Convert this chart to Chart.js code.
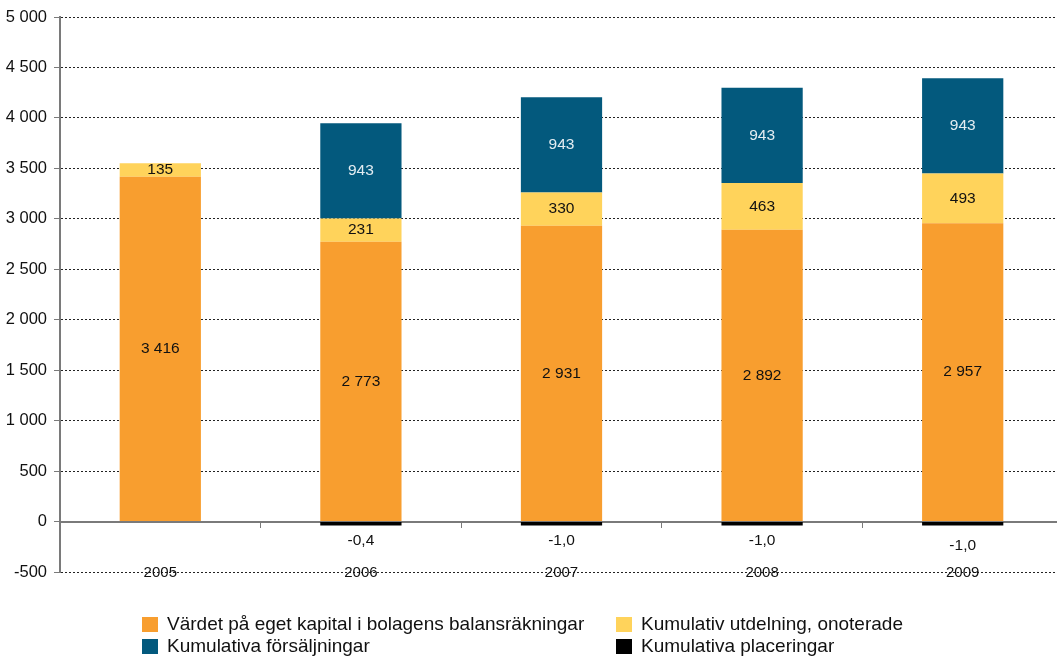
<!DOCTYPE html>
<html>
<head>
<meta charset="utf-8">
<script src="https://cdn.jsdelivr.net/npm/chart.js@4.4.1/dist/chart.umd.min.js"></script>
<style>
  html, body { margin: 0; padding: 0; background: #fff; overflow: hidden; }
  #wrap { position: relative; width: 1063px; height: 656px; }
  #legend {
    position: absolute; left: 142px; top: 616px;
    display: grid; grid-template-columns: 474px 320px; row-gap: 6px;
    font-family: "Liberation Sans", Arial, sans-serif; font-size: 19px; color: #111;
  }
  #legend .item { display: flex; align-items: center; height: 16px; }
  #legend .box { width: 16px; height: 15px; margin-right: 9px; flex: none; }
</style>
</head>
<body>
<div id="wrap">
  <canvas id="bar-chart" width="1063" height="656"></canvas>
  <div id="legend"></div>
</div>
<script>
var years = ['2005', '2006', '2007', '2008', '2009'];
var egetKapital = [3416, 2773, 2931, 2892, 2957];
var utdelning = [135, 231, 330, 463, 493];
var forsaljningar = [null, 943, 943, 943, 943];
var placeringar = [null, -0.4, -1.0, -1.0, -1.0];

var labels = [
    'Värdet på eget kapital i bolagens balansräkningar',
    'Kumulativ utdelning, onoterade',
    'Kumulativa försäljningar',
    'Kumulativa placeringar'
];
var colors = ['#f89e2f', '#ffd35b', '#03597d', '#000000'];

function fmtThousands(v) {
    var s = String(Math.abs(Math.round(v))).replace(/\B(?=(\d{3})+(?!\d))/g, ' ');
    return (v < 0 ? '-' : '') + s;
}
function fmtValue(v) {
    if (Math.round(v) !== v || Math.abs(v) < 10) return v.toFixed(1).replace('.', ',');
    return fmtThousands(v);
}

// values written into each segment, negatives below the zero line
var barLabels = {
    id: 'barLabels',
    afterDatasetsDraw: function (chart) {
        var ctx = chart.ctx;
        ctx.save();
        ctx.font = '15.5px "Liberation Sans", Arial, sans-serif';
        ctx.textAlign = 'center';
        ctx.textBaseline = 'middle';
        chart.data.datasets.forEach(function (ds, i) {
            var meta = chart.getDatasetMeta(i);
            meta.data.forEach(function (bar, j) {
                var v = ds.data[j];
                if (v === null || v === undefined) return;
                var y;
                if (v < 0) {
                    y = bar.base + (j === 4 ? 24 : 19);
                } else {
                    y = (bar.y + bar.base) / 2;
                }
                ctx.fillStyle = ds.labelColor;
                ctx.fillText(fmtValue(v), bar.x, y);
            });
        });
        ctx.restore();
    }
};

var series = [egetKapital, utdelning, forsaljningar, placeringar];
var datasets = series.map(function (d, i) {
    return {
        label: labels[i],
        data: d,
        backgroundColor: colors[i],
        labelColor: i === 2 ? '#e4edf2' : '#111111',
        barPercentage: 0.405,
        categoryPercentage: 1,
        minBarLength: i === 3 ? 4 : 0
    };
});

var barContext = document.getElementById('bar-chart').getContext('2d');
window.myBar = new Chart(barContext, {
    type: 'bar',
    data: { labels: years, datasets: datasets },
    options: {
        responsive: false,
        animation: false,
        layout: { padding: { top: 17, bottom: 84, left: 0, right: 0 } },
        plugins: { legend: { display: false }, tooltip: { enabled: false } },
        scales: {
            x: {
                stacked: true,
                position: { y: 0 },
                grid: {
                    offset: true,
                    drawOnChartArea: false,
                    drawTicks: true,
                    tickLength: 5,
                    tickColor: '#7a7a7a',
                    tickWidth: 1
                },
                border: { display: true, color: '#7a7a7a', width: 2 },
                ticks: {
                    padding: 37,
                    color: '#111111',
                    font: { family: '"Liberation Sans", Arial, sans-serif', size: 15 }
                }
            },
            y: {
                stacked: true,
                min: -500,
                max: 5000,
                afterFit: function (scale) { scale.width = 60; },
                grid: {
                    color: '#222222',
                    lineWidth: 1,
                    tickLength: 6,
                    tickColor: '#7a7a7a',
                    tickWidth: 1
                },
                border: { display: true, color: '#7a7a7a', width: 2, dash: [2, 2] },
                ticks: {
                    stepSize: 500,
                    padding: 7,
                    color: '#111111',
                    font: { family: '"Liberation Sans", Arial, sans-serif', size: 16.5 },
                    callback: function (v) { return fmtThousands(v); }
                }
            }
        }
    },
    plugins: [barLabels]
});

// two column legend under the plot
var legendOrder = [0, 1, 2, 3];
var legendEl = document.getElementById('legend');
legendOrder.forEach(function (i) {
    var item = document.createElement('div');
    item.className = 'item';
    var box = document.createElement('span');
    box.className = 'box';
    box.style.background = colors[i];
    var txt = document.createElement('span');
    txt.textContent = labels[i];
    item.appendChild(box);
    item.appendChild(txt);
    legendEl.appendChild(item);
});
</script>
</body>
</html>
